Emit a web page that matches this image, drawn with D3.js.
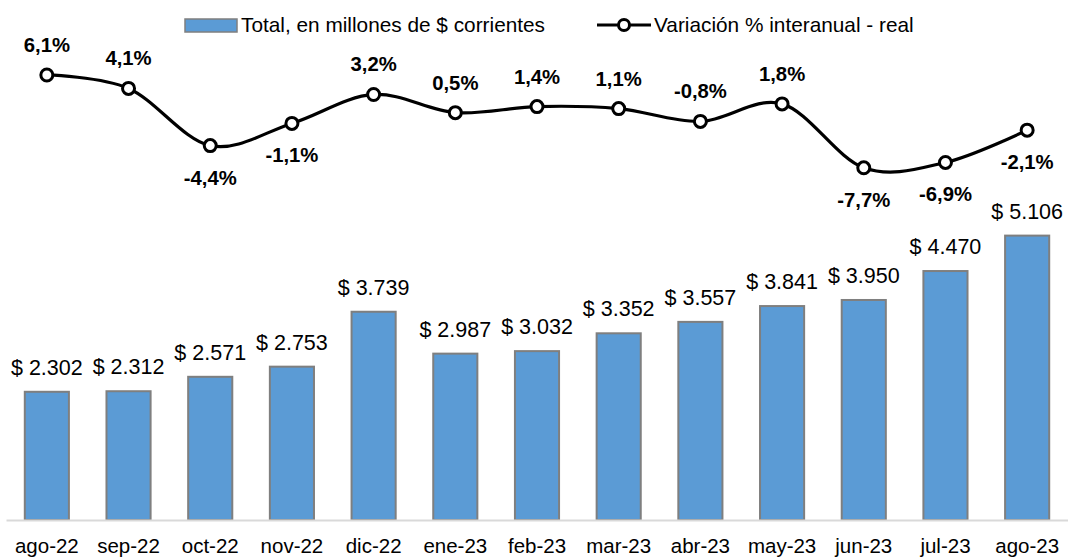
<!DOCTYPE html>
<html><head><meta charset="utf-8">
<script src="https://cdn.jsdelivr.net/npm/d3@7"></script>
<style>body{margin:0;background:#fff;}svg{display:block;}</style>
</head><body>
<script>
const categories = ["ago-22","sep-22","oct-22","nov-22","dic-22","ene-23","feb-23","mar-23","abr-23","may-23","jun-23","jul-23","ago-23"];
const totals = [2302,2312,2571,2753,3739,2987,3032,3352,3557,3841,3950,4470,5106];
const variation = [6.1,4.1,-4.4,-1.1,3.2,0.5,1.4,1.1,-0.8,1.8,-7.7,-6.9,-2.1];
const seriesNames = ["Total, en millones de $ corrientes","Variación % interanual - real"];

const W = 1068, H = 559;
const svg = d3.select("body").append("svg").attr("width", W).attr("height", H);
const fontMain = "'Liberation Sans', Arial, sans-serif";

const x = d3.scaleBand().domain(categories).range([6, 1068]).paddingInner(0.46).paddingOuter(0.23);
const yBar = d3.scaleLinear().domain([0, 9336]).range([520, 0]);
const yLine = d3.scaleLinear().domain([-10, 10]).range([116 + 67.3, 116 - 67.3]);

// bars
svg.append("g").selectAll("rect").data(totals).join("rect")
  .attr("x", (d,i) => x(categories[i]))
  .attr("y", d => yBar(d))
  .attr("width", x.bandwidth())
  .attr("height", d => yBar(0) - yBar(d))
  .attr("fill", "#5b9bd5").attr("stroke", "#7f7f7f").attr("stroke-width", 2);

// axis
const xAxis = d3.axisBottom(x).tickSize(0).tickPadding(18);
const gx = svg.append("g").attr("transform", "translate(0,520)").call(xAxis);
gx.select(".domain").attr("stroke", "#d9d9d9").attr("stroke-width", 2);
gx.selectAll("text").attr("font-family", fontMain).attr("font-size", 20.5).attr("fill", "#000");

// bar labels
svg.append("g").selectAll("text").data(totals).join("text")
  .attr("x", (d,i) => x(categories[i]) + x.bandwidth()/2)
  .attr("y", d => yBar(d) - 17)
  .attr("text-anchor", "middle")
  .attr("font-family", fontMain).attr("font-size", 21.5).attr("fill", "#000")
  .text(d => "$ " + d3.format(",")(d).replace(/,/g, "."));

// line
const cx = i => x(categories[i]) + x.bandwidth()/2;
const line = d3.line().x((d,i) => cx(i)).y(d => yLine(d)).curve(d3.curveCatmullRom.alpha(0));
svg.append("path").datum(variation).attr("d", line)
  .attr("fill", "none").attr("stroke", "#000").attr("stroke-width", 3.2);
svg.append("g").selectAll("circle").data(variation).join("circle")
  .attr("cx", (d,i) => cx(i)).attr("cy", d => yLine(d)).attr("r", 6)
  .attr("fill", "#fff").attr("stroke", "#000").attr("stroke-width", 3);

// line labels
svg.append("g").selectAll("text").data(variation).join("text")
  .attr("x", (d,i) => cx(i))
  .attr("y", d => d > -1 ? yLine(d) - 23 : yLine(d) + 39)
  .attr("text-anchor", "middle")
  .attr("font-family", fontMain).attr("font-size", 20.3).attr("font-weight", "bold").attr("fill", "#000")
  .text(d => d3.format(".1f")(d).replace("\u2212", "-").replace(".", ",") + "%");

// legend
const lg = svg.append("g");
lg.append("rect").attr("x", 185).attr("y", 19).attr("width", 52).attr("height", 13)
  .attr("fill", "#5b9bd5").attr("stroke", "#7f7f7f").attr("stroke-width", 1.5);
lg.append("text").attr("x", 241).attr("y", 32).attr("font-family", fontMain).attr("font-size", 20.8).text(seriesNames[0]);
lg.append("line").attr("x1", 597).attr("x2", 651).attr("y1", 25).attr("y2", 25).attr("stroke", "#000").attr("stroke-width", 3.2);
lg.append("circle").attr("cx", 624).attr("cy", 25).attr("r", 5.5).attr("fill", "#fff").attr("stroke", "#000").attr("stroke-width", 3);
lg.append("text").attr("x", 654).attr("y", 32).attr("font-family", fontMain).attr("font-size", 20.8).text(seriesNames[1]);
</script>
</body></html>
